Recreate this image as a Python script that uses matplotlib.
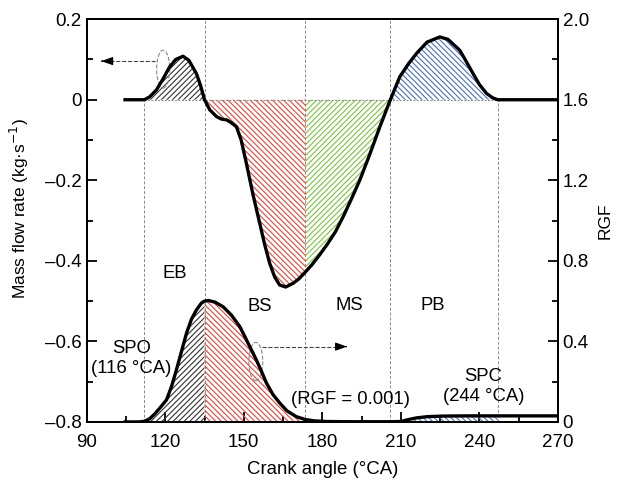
import numpy as np
import matplotlib.pyplot as plt
from matplotlib.patches import Ellipse
from matplotlib.ticker import MultipleLocator

plt.rcParams['font.family'] = ['Liberation Sans', 'DejaVu Sans']
plt.rcParams['hatch.linewidth'] = 0.8

# mass flow rate (kg/s) vs crank angle
md_deg = [104, 108, 112, 114, 116.6, 119, 121.7, 124, 126.8, 129, 131.9, 133.5, 135,
          137, 139.6, 141.5, 143.4, 145, 147.2, 149, 151, 153.5, 156.1, 158, 159.9,
          161.8, 163.7, 166, 168.8, 171, 173.5, 176, 179, 182, 185, 188, 191, 194.3,
          198, 202, 206, 209.6, 213, 216, 220, 224.9, 228, 232.5, 235, 237.6, 240,
          242.7, 245, 247, 250, 270]
md_val = [0, 0, 0, 0.007, 0.024, 0.05, 0.082, 0.1, 0.108, 0.098, 0.065, 0.035, 0,
          -0.025, -0.042, -0.048, -0.05, -0.056, -0.067, -0.1, -0.158, -0.235, -0.307,
          -0.36, -0.406, -0.44, -0.46, -0.465, -0.456, -0.445, -0.428, -0.41, -0.385,
          -0.358, -0.328, -0.29, -0.248, -0.2, -0.138, -0.067, 0, 0.057, 0.09, 0.115,
          0.143, 0.156, 0.15, 0.123, 0.095, 0.065, 0.038, 0.016, 0.005, 0, 0, 0]

# residual gas fraction vs crank angle
rgf_deg = [104, 110, 112, 114, 116, 118, 120.5, 122.5, 124.3, 126.2, 128.1, 130, 131.9,
           133.8, 135, 136.5, 139, 142.1, 145.3, 148.5, 151.5, 154.8, 156.8, 158.7,
           161.2, 163.8, 166.5, 170.1, 173.5, 177, 182, 190, 200, 206, 210, 213, 216,
           220, 226, 235, 247, 255, 270]
rgf_val = [0, 0, 0.003, 0.015, 0.04, 0.07, 0.11, 0.18, 0.26, 0.35, 0.44, 0.51, 0.556,
           0.59, 0.6, 0.603, 0.595, 0.572, 0.53, 0.473, 0.395, 0.308, 0.25, 0.192,
           0.135, 0.093, 0.055, 0.026, 0.012, 0.005, 0.002, 0.001, 0.001, 0.001, 0.002,
           0.012, 0.02, 0.026, 0.029, 0.03, 0.03, 0.03, 0.03]

# phase boundaries (deg) and names
bounds = [112, 135, 173.5, 206, 247]
phases = ['EB', 'BS', 'MS', 'PB']
phase_colors = ['#333333', '#e8453c', '#7cc242', '#4a6fc0']
phase_hatch = ['//////', '\\\\\\\\\\\\', '//////', '\\\\\\\\\\\\']

md_deg = np.array(md_deg); md_val = np.array(md_val)
rgf_deg = np.array(rgf_deg); rgf_val = np.array(rgf_val)

fig = plt.figure(figsize=(6.24, 4.8), dpi=100)
ax = fig.add_axes([0.139, 0.121, 0.755, 0.839])
ax2 = ax.twinx()

ax.set_xlim(90, 270)
ax.set_ylim(-0.8, 0.2)
ax2.set_ylim(0, 2.0)

for i in range(4):
    lo, hi = bounds[i], bounds[i + 1]
    m = (md_deg >= lo) & (md_deg <= hi)
    ax.fill_between(md_deg[m], 0, md_val[m], facecolor='none',
                    edgecolor=phase_colors[i], hatch=phase_hatch[i], linewidth=0)
    if i != 2:
        r = (rgf_deg >= lo) & (rgf_deg <= hi)
        ax2.fill_between(rgf_deg[r], 0, rgf_val[r], facecolor='none',
                         edgecolor=phase_colors[i], hatch=phase_hatch[i], linewidth=0)

# guide lines
gray = '#888888'
ax.plot([bounds[0], bounds[-1]], [0, 0], color=gray, lw=0.7, ls=(0, (2, 1.5)))
for b in bounds:
    top = 0 if b in (bounds[0], bounds[-1]) else 0.2
    ax.plot([b, b], [-0.8, top], color=gray, lw=0.7, ls=(0, (3, 2)))

ax.plot(md_deg, md_val, color='black', lw=2.4, solid_capstyle='butt', zorder=5)
ax2.plot(rgf_deg, rgf_val, color='black', lw=2.4, solid_capstyle='butt', zorder=5)

# arrows marking which axis each curve uses
ax.add_patch(Ellipse((119.2, 0.076), 5, 0.094, fill=False, ec=gray, lw=0.8, ls='--'))
ax.plot([96.5, 116.7], [0.096, 0.096], color='#444444', lw=0.8, ls='--')
ax.annotate('', xy=(94.5, 0.096), xytext=(97, 0.096),
            arrowprops=dict(arrowstyle='-|>,head_length=0.7,head_width=0.25',
                            color='black', lw=0.8))
ax2.add_patch(Ellipse((154.6, 0.30), 5.3, 0.19, fill=False, ec=gray, lw=0.8, ls='--'))
ax2.plot([156.9, 188], [0.374, 0.374], color='#444444', lw=0.8, ls='--')
ax2.annotate('', xy=(190.5, 0.374), xytext=(188, 0.374),
             arrowprops=dict(arrowstyle='-|>,head_length=0.7,head_width=0.25',
                             color='black', lw=0.8))

fs = 13.3
ax.text(123.6, -0.431, 'EB', ha='center', va='center', fontsize=fs)
ax.text(156.1, -0.514, 'BS', ha='center', va='center', fontsize=fs)
ax.text(190.5, -0.51, 'MS', ha='center', va='center', fontsize=fs)
ax.text(222.1, -0.512, 'PB', ha='center', va='center', fontsize=fs)
ax.text(107.1, -0.642, 'SPO\n(116 °CA)', ha='center', va='center', fontsize=fs)
ax.text(190.9, -0.744, '(RGF = 0.001)', ha='center', va='center', fontsize=fs)
ax.text(241.5, -0.712, 'SPC\n(244 °CA)', ha='center', va='center', fontsize=fs)

ax.xaxis.set_major_locator(MultipleLocator(30))
ax.xaxis.set_minor_locator(MultipleLocator(15))
ax.yaxis.set_minor_locator(MultipleLocator(0.1))
ax2.yaxis.set_minor_locator(MultipleLocator(0.2))
ax.set_yticks([0.2, 0, -0.2, -0.4, -0.6, -0.8])
ax.set_yticklabels(['0.2', '0', '\u20130.2', '\u20130.4', '\u20130.6', '\u20130.8'])
ax2.set_yticks([0, 0.4, 0.8, 1.2, 1.6, 2.0])
ax2.set_yticklabels(['0', '0.4', '0.8', '1.2', '1.6', '2.0'])

for a in (ax, ax2):
    a.tick_params(which='both', direction='in', labelsize=13.5, width=1.3)
    a.tick_params(which='major', length=7)
    a.tick_params(which='minor', length=4)
    for s in a.spines.values():
        s.set_linewidth(1.4)
ax.tick_params(axis='y', which='both', right=False)
ax.tick_params(axis='x', which='both', top=False, pad=9)

ax.set_xlabel('Crank angle (°CA)', fontsize=13.4, labelpad=7)
ax.set_ylabel('Mass flow rate (kg·s$^{-1}$)', fontsize=12.5)
ax.yaxis.set_label_coords(-0.118, 0.53)
ax2.set_ylabel('RGF', fontsize=12.5, labelpad=6)

fig.savefig('out.png', dpi=100)
